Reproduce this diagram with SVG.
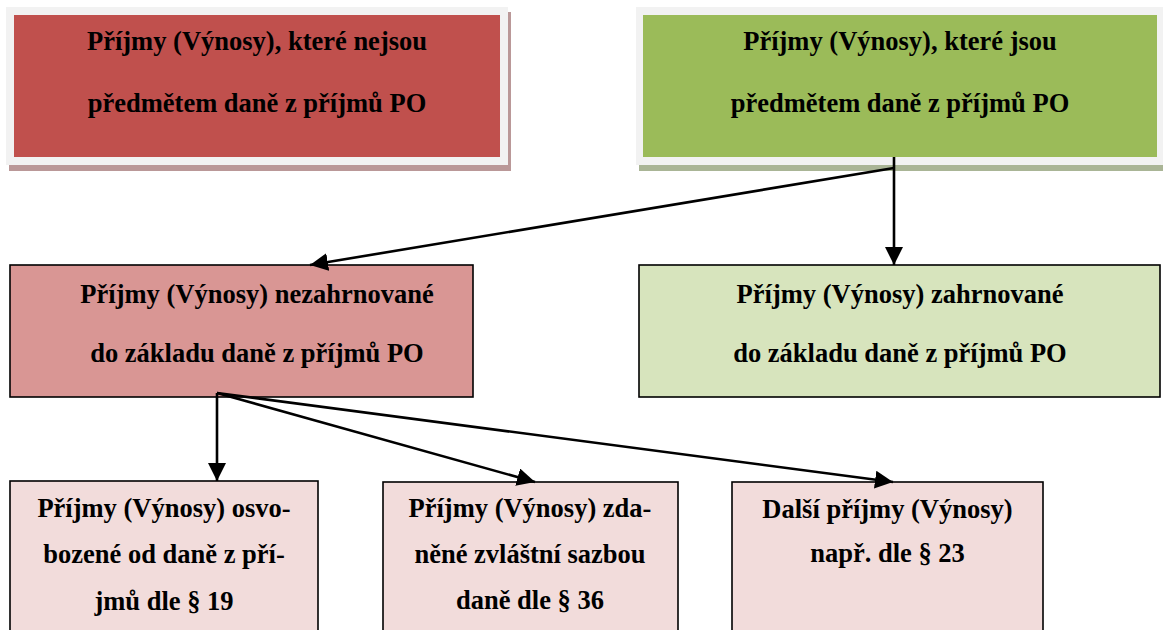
<svg xmlns="http://www.w3.org/2000/svg" width="1163" height="630" viewBox="0 0 1163 630">
<style>
text{font-family:"Liberation Serif","Times New Roman","Noto Serif","DejaVu Serif",serif;font-weight:bold;font-size:26.5px;fill:#000;text-anchor:middle}
.frame{fill:#f2f2f2}
.box{stroke:#000;stroke-width:1.6}
.conn{stroke:#000;stroke-width:2.6;fill:none;marker-end:url(#ah)}
</style>
<defs>
<marker id="ah" markerUnits="userSpaceOnUse" markerWidth="18" markerHeight="18" viewBox="0 0 16 16" refX="16" refY="8" orient="auto">
<path d="M0,0 L16,8 L0,16 Z" fill="#000"/>
</marker>
</defs>
<rect width="1163" height="630" fill="#fff"/>
<g id="node-nejsou">
<rect x="9" y="12" width="502" height="159" fill="#ba9898"/>
<rect class="frame" x="6" y="7" width="502" height="158"/>
<rect x="14" y="15" width="486" height="142" fill="#c0504d"/>
<text x="257" y="50">Příjmy (Výnosy), které nejsou</text>
<text x="257" y="112">předmětem daně z příjmů PO</text>
</g>
<g id="node-jsou">
<rect x="639" y="12" width="530" height="159" fill="#aab596"/>
<rect class="frame" x="636" y="7" width="530" height="158"/>
<rect x="643" y="15" width="514" height="142" fill="#9bbb59"/>
<text x="900" y="50">Příjmy (Výnosy), které jsou</text>
<text x="900" y="112">předmětem daně z příjmů PO</text>
</g>
<g id="node-nezahrnovane">
<rect class="box" x="10" y="265" width="463" height="132" fill="#d99694"/>
<text x="257" y="303">Příjmy (Výnosy) nezahrnované</text>
<text x="257" y="362">do základu daně z příjmů PO</text>
</g>
<g id="node-zahrnovane">
<rect class="box" x="639" y="265" width="521" height="132" fill="#d7e4bd"/>
<text x="900" y="303">Příjmy (Výnosy) zahrnované</text>
<text x="900" y="362">do základu daně z příjmů PO</text>
</g>
<g id="node-osvobozene">
<rect class="box" x="10" y="481" width="308" height="160" fill="#f2dcdb"/>
<text x="164" y="517">Příjmy (Výnosy) osvo-</text>
<text x="164" y="563">bozené od daně z pří-</text>
<text x="164" y="610">jmů dle § 19</text>
</g>
<g id="node-zdanene">
<rect class="box" x="383" y="482" width="295" height="160" fill="#f2dcdb"/>
<text x="530" y="517">Příjmy (Výnosy) zda-</text>
<text x="530" y="563">něné zvláštní sazbou</text>
<text x="530" y="609">daně dle § 36</text>
</g>
<g id="node-dalsi">
<rect class="box" x="732" y="482" width="311" height="160" fill="#f2dcdb"/>
<text x="887.5" y="518">Další příjmy (Výnosy)</text>
<text x="887.5" y="562">např. dle § 23</text>
</g>
<g id="connectors">
<line class="conn" x1="894" y1="157" x2="894" y2="265"/>
<line class="conn" x1="894" y1="168" x2="310" y2="265"/>
<line class="conn" x1="217" y1="393" x2="217" y2="481"/>
<line class="conn" x1="217" y1="393" x2="535" y2="482"/>
<line class="conn" x1="217" y1="393" x2="893" y2="482"/>
</g>
</svg>
